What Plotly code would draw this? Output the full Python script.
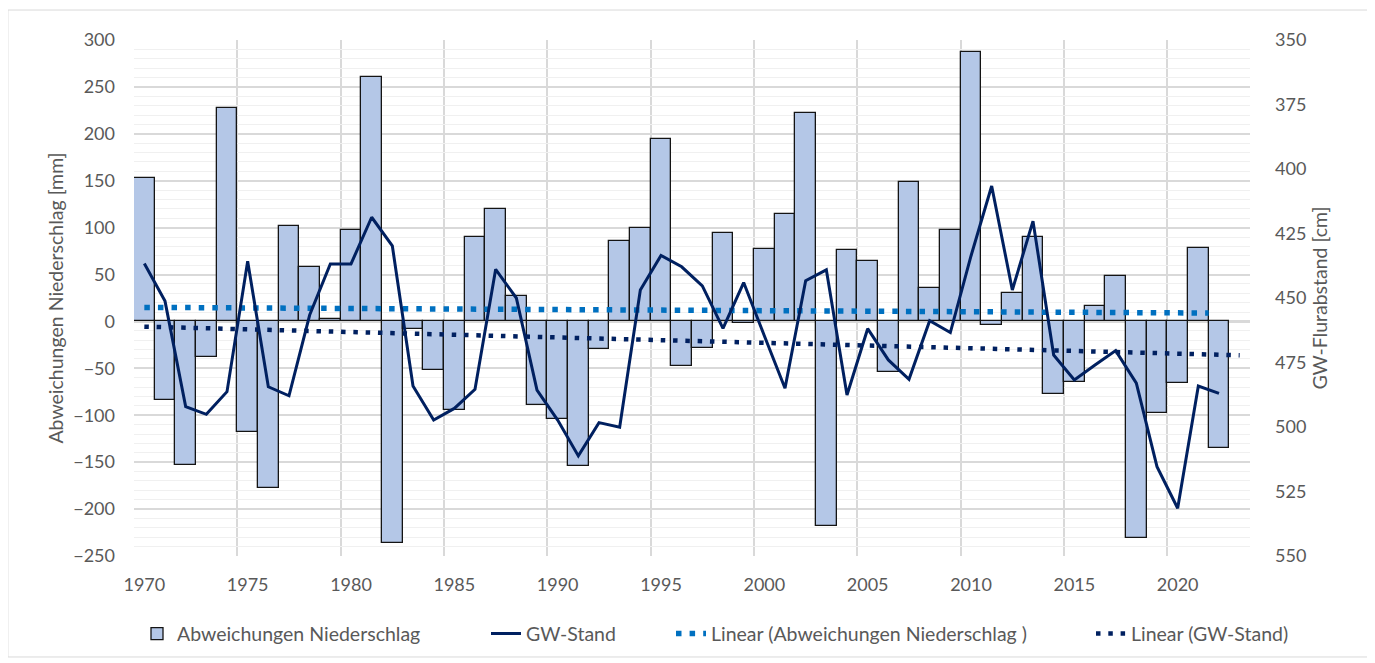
import plotly.graph_objects as go

# Jahre und Werte
jahre = list(range(1970, 2023))
jahr_labels = list(range(1970, 2021, 5))

niederschlag = [153, -84, -153, -38, 227, -118, -178, 102, 58, 3,
                98, 261, -236, -8, -52, -94, 90, 120, 27, -89,
                -104, -154, -29, 86, 100, 194, -48, -28, 94, -2,
                77, 115, 222, -218, 76, 64, -54, 149, 36, 97,
                287, -4, 30, 90, -77, -65, 16, 48, -231, -98,
                -66, 78, -135]

gw_stand = [436.6, 451.2, 492.1, 495.1, 486.3, 435.8, 484.4, 487.9, 456.6, 436.8,
            436.8, 418.7, 429.8, 484.1, 497.3, 492.8, 485.4, 438.9, 450.0, 485.7,
            497.3, 511.2, 498.3, 500.1, 446.9, 433.5, 437.9, 445.3, 461.8, 444.0,
            464.6, 485.0, 443.3, 439.1, 487.6, 461.9, 474.0, 481.5, 458.8, 463.4,
            433.7, 406.6, 446.9, 420.2, 472.1, 481.8, 476.0, 470.4, 483.0, 515.4,
            531.5, 484.1, 487.0]

trend_ns_x = [1970.5, 2022.0]
trend_ns_y = [15.0, 9.0]
trend_gw_x = [1970.5, 2023.5]
trend_gw_y = [461.1, 472.2]

# Kategorienachse: Balken und Beschriftung jeweils in der Mitte des Jahres
x_mitte = [j + 0.5 for j in jahre]

grau = "#595959"
schrift = "Lato, 'Open Sans', sans-serif"

# Plotbereich in Pixel (fuer die Legendenplatzierung)
plot_links, plot_breite = 134, 1116


def leg_x(px):
    return (px - plot_links) / plot_breite


leg_stil = dict(orientation="h", y=-0.151, yanchor="middle", xanchor="left",
                font=dict(size=19.5, color=grau), bgcolor="rgba(0,0,0,0)")

fig = go.Figure()
fig.add_trace(go.Bar(x=x_mitte, y=niederschlag, width=1, name="Abweichungen Niederschlag",
                     legend="legend",
                     marker=dict(color="#B4C7E7", line=dict(color="#141414", width=1.3))))
fig.add_trace(go.Scatter(x=x_mitte, y=gw_stand, mode="lines", name="GW-Stand", yaxis="y2",
                         legend="legend2", line=dict(color="#002060", width=3)))
fig.add_trace(go.Scatter(x=trend_ns_x, y=trend_ns_y, mode="lines",
                         name="Linear (Abweichungen Niederschlag )", legend="legend3",
                         line=dict(color="#0070C0", width=5.5, dash="5.5px,8.1px")))
fig.add_trace(go.Scatter(x=trend_gw_x, y=trend_gw_y, mode="lines", name="Linear (GW-Stand)",
                         yaxis="y2", legend="legend4",
                         line=dict(color="#002060", width=4.5, dash="4.5px,7.8px")))

fig.update_layout(
    width=1375, height=663,
    margin=dict(l=126, r=133, t=32, b=115),
    paper_bgcolor="white", plot_bgcolor="white",
    font=dict(family=schrift, size=18, color=grau),
    bargap=0,
    showlegend=True,
    legend=dict(x=leg_x(137), **leg_stil),
    legend2=dict(x=leg_x(486), **leg_stil),
    legend3=dict(x=leg_x(671), **leg_stil),
    legend4=dict(x=leg_x(1091), **leg_stil),
    xaxis=dict(range=[1970, 2024], tickvals=[j + 0.5 for j in jahr_labels],
               ticktext=[str(j) for j in jahr_labels], showgrid=False,
               minor=dict(tick0=1970, dtick=5, showgrid=True, gridcolor="#D9D9D9", gridwidth=1.5,
                          ticks=""),
               zeroline=False, showline=False, ticks="", ticklabelstandoff=16),
    yaxis=dict(range=[-250, 300], dtick=50, showgrid=True, gridcolor="#D9D9D9", gridwidth=1.5,
               minor=dict(dtick=10, showgrid=True, gridcolor="#F0F0F0", gridwidth=1),
               zeroline=True, zerolinecolor="#D9D9D9", zerolinewidth=2.5,
               ticks="", ticklabelstandoff=18,
               title=dict(text="Abweichungen Niederschlag [mm]", font=dict(size=19.5, color=grau),
                          standoff=4)),
    yaxis2=dict(range=[550, 350], dtick=25, overlaying="y", side="right",
                showgrid=False, zeroline=False, ticks="", ticklabelstandoff=24,
                title=dict(text="GW-Flurabstand [cm]", font=dict(size=19.5, color=grau),
                           standoff=8)),
    shapes=[dict(type="rect", xref="paper", yref="paper",
                 x0=-0.113, x1=1.1057, y0=-0.1957, y1=1.0581,
                 line=dict(color="#D9D9D9", width=1), fillcolor="rgba(0,0,0,0)", layer="below")],
)

fig.write_html("out.html")
